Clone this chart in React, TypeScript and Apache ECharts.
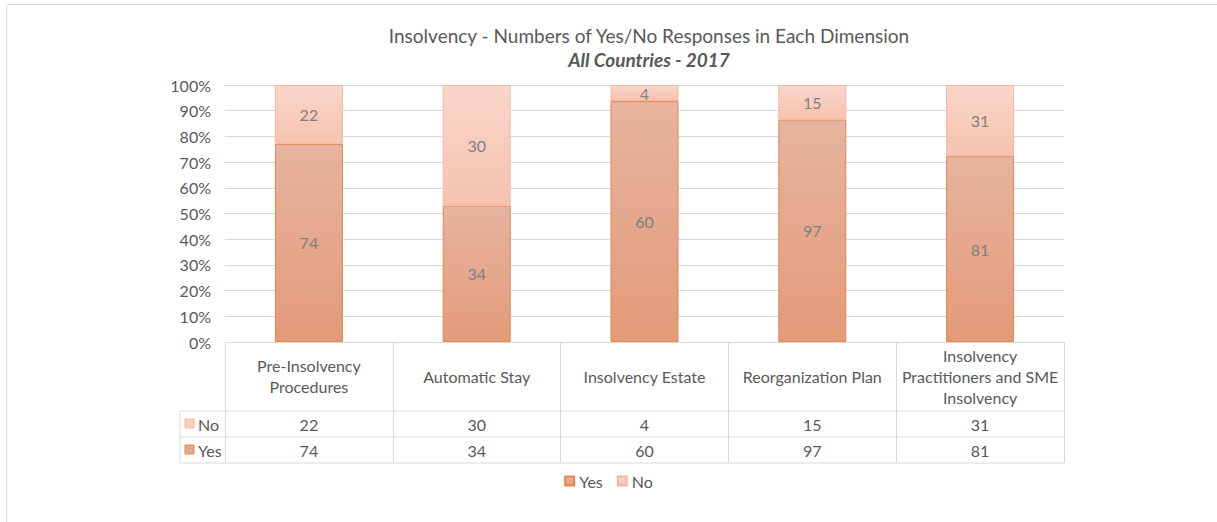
import React, { useEffect, useRef } from "react";
import * as echarts from "echarts";

const categories = [
  "Pre-Insolvency\nProcedures",
  "Automatic Stay",
  "Insolvency Estate",
  "Reorganization Plan",
  "Insolvency\nPractitioners and SME\nInsolvency",
];
const yesValues = [74, 34, 60, 97, 81];
const noValues = [22, 30, 4, 15, 31];
const yTicks = { min: 0, max: 100, interval: 10 };

const FONT = "Lato";
const GRAY = "#595959";
const LINE = "#d9d9d9";
const FS = 16;

const yesColor = new echarts.graphic.LinearGradient(0, 0, 0, 1, [
  { offset: 0, color: "#e6b4a0" },
  { offset: 1, color: "#e39a78" },
]);
const noColor = new echarts.graphic.LinearGradient(0, 0, 0, 1, [
  { offset: 0, color: "#f9d6c9" },
  { offset: 1, color: "#f6c3af" },
]);

export default function App() {
  const ref = useRef<HTMLDivElement>(null);
  useEffect(() => {
    if (!ref.current) return;
    const chart = echarts.init(ref.current, undefined, { renderer: "svg" });
    const totals = yesValues.map((y, i) => y + noValues[i]);
    const yesPct = yesValues.map((y, i) => (y / totals[i]) * 100);
    const noPct = noValues.map((n, i) => (n / totals[i]) * 100);

    const tableLeft = 180;
    const plotLeft = 225;
    const plotRight = 1064;
    const rowLines = [411, 437, 463];

    const graphics: any[] = [
      {
        type: "rect",
        shape: { x: 6.5, y: 4.5, width: 1400, height: 700 },
        style: { fill: "none", stroke: LINE, lineWidth: 1 },
        silent: true,
      },
      ...rowLines.map((y) => ({
        type: "line",
        shape: { x1: tableLeft, y1: y, x2: plotRight, y2: y },
        style: { stroke: LINE, lineWidth: 1 },
        silent: true,
      })),
      {
        type: "line",
        shape: { x1: tableLeft, y1: 411, x2: tableLeft, y2: 463 },
        style: { stroke: LINE, lineWidth: 1 },
        silent: true,
      },
      {
        type: "rect",
        shape: { x: 185, y: 419, width: 9, height: 9 },
        style: { fill: "#f8cfbf", stroke: "#f4b8a2", lineWidth: 1 },
        silent: true,
      },
      {
        type: "text",
        x: 198,
        y: 424,
        style: { text: "No", font: `${FS}px ${FONT}`, fill: GRAY, verticalAlign: "middle" },
        silent: true,
      },
      {
        type: "rect",
        shape: { x: 185, y: 445, width: 9, height: 9 },
        style: { fill: "#e5a88c", stroke: "#e0884f", lineWidth: 1 },
        silent: true,
      },
      {
        type: "text",
        x: 198,
        y: 450,
        style: { text: "Yes", font: `${FS}px ${FONT}`, fill: GRAY, verticalAlign: "middle" },
        silent: true,
      },
    ];

    const labelStyle = { color: GRAY, fontFamily: FONT, fontSize: FS };

    chart.setOption({
      animation: false,
      backgroundColor: "#ffffff",
      title: {
        text: "Insolvency - Numbers of Yes/No Responses in Each Dimension",
        subtext: "All Countries - 2017",
        left: 644,
        textAlign: "center",
        top: 21,
        itemGap: 5,
        textStyle: { color: GRAY, fontFamily: FONT, fontSize: 19, fontWeight: "normal" },
        subtextStyle: {
          color: GRAY,
          fontFamily: FONT,
          fontSize: 19,
          fontWeight: "bold",
          fontStyle: "italic",
        },
      },
      legend: {
        data: ["Yes", "No"],
        left: "center",
        top: 468,
        icon: "rect",
        itemWidth: 9,
        itemHeight: 9,
        itemGap: 14,
        textStyle: { color: GRAY, fontFamily: FONT, fontSize: FS },
        selectedMode: false,
      },
      grid: { left: plotLeft, right: 1217 - plotRight, top: 85, bottom: 522 - 342, containLabel: false },
      xAxis: [
        {
          type: "category",
          data: categories,
          axisLine: { show: true, lineStyle: { color: LINE } },
          axisTick: { show: true, interval: 0, length: 121, lineStyle: { color: LINE } },
          axisLabel: {
            ...labelStyle,
            interval: 0,
            margin: 34,
            verticalAlign: "middle",
            lineHeight: 21,
          },
        },
        {
          type: "category",
          data: categories,
          position: "bottom",
          axisLine: { show: false },
          axisTick: { show: false },
          axisLabel: {
            ...labelStyle,
            interval: 0,
            margin: 82,
            verticalAlign: "middle",
            formatter: (_v: string, i: number) => String(noValues[i]),
          },
        },
        {
          type: "category",
          data: categories,
          position: "bottom",
          axisLine: { show: false },
          axisTick: { show: false },
          axisLabel: {
            ...labelStyle,
            interval: 0,
            margin: 108,
            verticalAlign: "middle",
            formatter: (_v: string, i: number) => String(yesValues[i]),
          },
        },
      ],
      yAxis: {
        type: "value",
        min: yTicks.min,
        max: yTicks.max,
        interval: yTicks.interval,
        axisLine: { show: false },
        axisTick: { show: false },
        axisLabel: { ...labelStyle, margin: 14, formatter: "{value}%" },
        splitLine: { lineStyle: { color: LINE } },
      },
      series: [
        {
          name: "Yes",
          type: "bar",
          stack: "total",
          barWidth: 68,
          data: yesPct,
          itemStyle: { color: yesColor, borderColor: "#e0884f", borderWidth: 1 },
          label: {
            show: true,
            position: "inside",
            color: "#808080",
            fontFamily: FONT,
            fontSize: FS,
            formatter: (p: any) => String(yesValues[p.dataIndex]),
          },
        },
        {
          name: "No",
          type: "bar",
          stack: "total",
          barWidth: 68,
          data: noPct,
          itemStyle: { color: noColor, borderColor: "#f4b8a2", borderWidth: 1 },
          label: {
            show: true,
            position: "inside",
            color: "#808080",
            fontFamily: FONT,
            fontSize: FS,
            formatter: (p: any) => String(noValues[p.dataIndex]),
          },
        },
      ],
      graphic: graphics,
    });
    return () => chart.dispose();
  }, []);
  return (
    <div
      ref={ref}
      style={{ position: "fixed", left: 0, top: 0, width: 1217, height: 522 }}
    />
  );
}
